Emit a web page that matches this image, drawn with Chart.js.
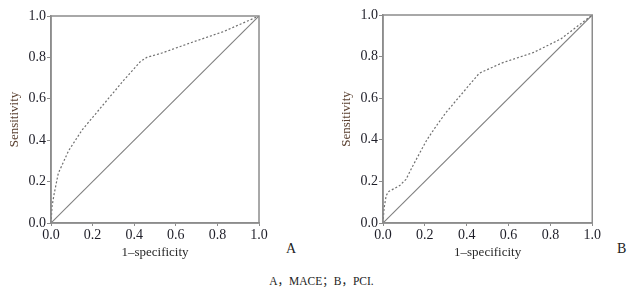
<!DOCTYPE html>
<html>
<head>
<meta charset="utf-8">
<script src="https://cdn.jsdelivr.net/npm/chart.js@4/dist/chart.umd.min.js"></script>
<style>
  body { margin: 0; background: #fff; width: 643px; height: 289px; position: relative; overflow: hidden; font-family: "Liberation Serif", "Noto Sans CJK SC", serif; }
  .panel { position: absolute; top: 0; width: 270px; height: 270px; }
  .tag { position: absolute; font-size: 14px; color: #222; }
  #caption { position: absolute; left: 0; width: 643px; top: 272px; text-align: center; font-size: 11.5px; color: #222; }
</style>
</head>
<body>
<div class="panel" style="left:0"><canvas id="rocA" width="270" height="270"></canvas></div>
<div class="panel" style="left:332px"><canvas id="rocB" width="270" height="270"></canvas></div>
<div class="tag" style="left:286px; top:241px">A</div>
<div class="tag" style="left:617px; top:241px">B</div>
<div id="caption">A，MACE；B，PCI.</div>

<script>
// --- data ---
const tickValues = [0, 0.2, 0.4, 0.6, 0.8, 1.0];
const refLine = [0, 1];

// A: MACE
const fprA = [0, 0.005, 0.015, 0.035, 0.085, 0.15, 0.25, 0.35, 0.43, 0.46, 0.53, 0.67, 0.83, 1.0];
const tprA = [0, 0.08, 0.14, 0.24, 0.35, 0.45, 0.57, 0.69, 0.78, 0.80, 0.82, 0.87, 0.925, 1.0];

// B: PCI
const fprB = [0, 0.005, 0.015, 0.025, 0.08, 0.11, 0.14, 0.18, 0.21, 0.25, 0.30, 0.38, 0.46, 0.57, 0.72, 0.85, 1.0];
const tprB = [0, 0.07, 0.13, 0.15, 0.18, 0.21, 0.27, 0.345, 0.40, 0.46, 0.53, 0.625, 0.72, 0.77, 0.82, 0.885, 1.0];

const FRAME = '#8c8c8c';

// box round the plot area (top + right edges)
const framePlugin = {
    id: 'frame',
    afterDraw(chart) {
        const a = chart.chartArea;
        const c = chart.ctx;
        c.save();
        c.strokeStyle = FRAME;
        c.lineWidth = 1.5;
        c.strokeRect(a.left, a.top, a.right - a.left, a.bottom - a.top);
        c.restore();
    }
};

function makeRoc(id, fpr, tpr, padRight, padTop) {
    const curve = fpr.map((x, i) => ({ x: x, y: tpr[i] }));
    const diag = refLine.map(v => ({ x: v, y: v }));
    const tickFont = { family: 'Liberation Serif', size: 14 };
    const titleFont = { family: 'Liberation Serif', size: 13 };

    return new Chart(document.getElementById(id), {
        type: 'line',
        data: {
            datasets: [
                { data: curve, borderColor: '#707070', borderWidth: 1.2, borderDash: [2, 2], pointRadius: 0, tension: 0 },
                { data: diag, borderColor: '#808080', borderWidth: 1.1, pointRadius: 0, tension: 0 }
            ]
        },
        options: {
            responsive: false,
            animation: false,
            layout: { padding: { left: 0, top: padTop, right: padRight, bottom: 10 } },
            plugins: { legend: { display: false }, tooltip: { enabled: false } },
            scales: {
                x: {
                    type: 'linear', min: 0, max: 1,
                    afterBuildTicks: s => { s.ticks = tickValues.map(v => ({ value: v })); },
                    afterFit: s => { s.height = 37; },
                    ticks: { autoSkip: false, maxRotation: 0, padding: 1, color: '#1e1e28', font: tickFont, callback: v => v.toFixed(1) },
                    grid: { drawOnChartArea: false, tickLength: 3, color: FRAME },
                    border: { color: FRAME, width: 1.5 },
                    title: { display: true, text: '1–specificity', color: '#2a2a2a', font: titleFont, padding: 0 }
                },
                y: {
                    type: 'linear', min: 0, max: 1,
                    afterBuildTicks: s => { s.ticks = tickValues.map(v => ({ value: v })); },
                    afterFit: s => { s.width = 51; },
                    ticks: { autoSkip: false, padding: 1, color: '#1e1e28', font: tickFont, callback: v => v.toFixed(1) },
                    grid: { drawOnChartArea: false, tickLength: 4, color: FRAME },
                    border: { color: FRAME, width: 1.5 },
                    title: { display: true, text: 'Sensitivity', color: '#5a4030', font: titleFont, padding: { top: 7, bottom: 0 } }
                }
            }
        },
        plugins: [framePlugin]
    });
}

makeRoc('rocA', fprA, tprA, 11, 16);
makeRoc('rocB', fprB, tprB, 8, 15);
</script>
</body>
</html>
